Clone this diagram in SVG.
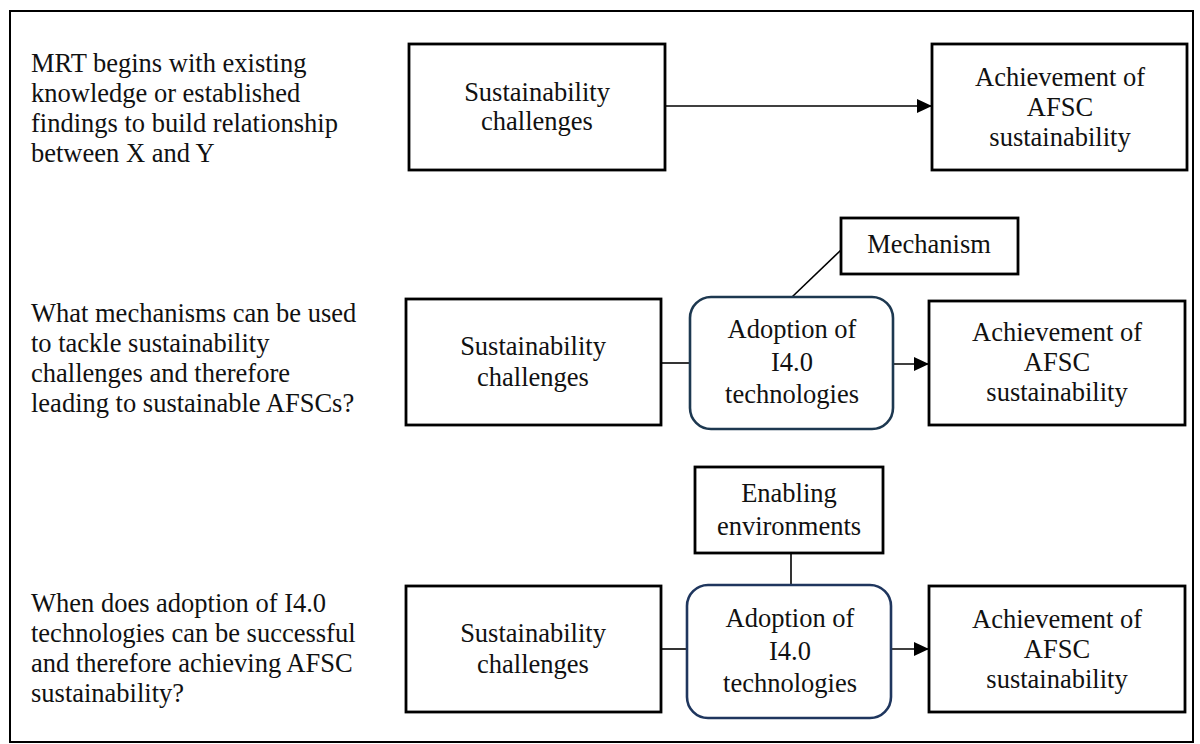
<svg xmlns="http://www.w3.org/2000/svg" width="1200" height="744" viewBox="0 0 1200 744">
<style>
text{font-family:"Liberation Serif","Times New Roman",serif;font-size:26.5px;fill:#111}
.c{text-anchor:middle}
.box{fill:#fff;stroke:#000;stroke-width:2.8}
.rbox{fill:#fff;stroke:#1d3850;stroke-width:2.6}
.ln{stroke:#000;stroke-width:1.6;fill:none}
</style>
<defs>
<marker id="ah" viewBox="0 0 15 14" refX="15" refY="7" markerWidth="15" markerHeight="14" markerUnits="userSpaceOnUse" orient="auto">
<path d="M0,0 L15,7 L0,14 Z" fill="#000"/>
</marker>
</defs>
<rect x="10" y="11" width="1183" height="731" fill="#fff" stroke="#000" stroke-width="2"/>

<g id="labels">
<text x="31" y="72">MRT begins with existing</text>
<text x="31" y="102">knowledge or established</text>
<text x="31" y="132">findings to build relationship</text>
<text x="31" y="162">between X and Y</text>
<text x="31" y="322">What mechanisms can be used</text>
<text x="31" y="352">to tackle sustainability</text>
<text x="31" y="382">challenges and therefore</text>
<text x="31" y="412">leading to sustainable AFSCs?</text>
<text x="31" y="612">When does adoption of I4.0</text>
<text x="31" y="642">technologies can be successful</text>
<text x="31" y="672">and therefore achieving AFSC</text>
<text x="31" y="702">sustainability?</text>
</g>

<g id="connectors">
<line class="ln" x1="665" y1="106" x2="932" y2="106" marker-end="url(#ah)"/>
<line class="ln" x1="661" y1="363" x2="690" y2="363"/>
<line class="ln" x1="893" y1="364" x2="929" y2="364" marker-end="url(#ah)"/>
<line class="ln" x1="841" y1="250" x2="792" y2="297"/>
<line class="ln" x1="661" y1="649" x2="687" y2="649"/>
<line class="ln" x1="891" y1="649" x2="929" y2="649" marker-end="url(#ah)"/>
<line class="ln" x1="791" y1="553" x2="791" y2="585"/>
</g>

<g id="sc1">
<rect class="box" x="409" y="44" width="256" height="126"/>
<text class="c" x="537" y="101">Sustainability</text>
<text class="c" x="537" y="130">challenges</text>
</g>
<g id="afsc1">
<rect class="box" x="932" y="44" width="255" height="126"/>
<text class="c" x="1060" y="86">Achievement of</text>
<text class="c" x="1060" y="116">AFSC</text>
<text class="c" x="1060" y="146">sustainability</text>
</g>

<g id="sc2">
<rect class="box" x="406" y="299" width="255" height="126"/>
<text class="c" x="533" y="355">Sustainability</text>
<text class="c" x="533" y="386">challenges</text>
</g>
<g id="i40a">
<rect class="rbox" x="690" y="297" width="203" height="132" rx="21"/>
<text class="c" x="792" y="338">Adoption of</text>
<text class="c" x="792" y="371">I4.0</text>
<text class="c" x="792" y="403">technologies</text>
</g>
<g id="mech">
<rect class="box" x="841" y="218" width="177" height="56"/>
<text class="c" x="929" y="253">Mechanism</text>
</g>
<g id="afsc2">
<rect class="box" x="929" y="301" width="256" height="124"/>
<text class="c" x="1057" y="341">Achievement of</text>
<text class="c" x="1057" y="371">AFSC</text>
<text class="c" x="1057" y="401">sustainability</text>
</g>

<g id="sc3">
<rect class="box" x="406" y="586" width="255" height="126"/>
<text class="c" x="533" y="642">Sustainability</text>
<text class="c" x="533" y="673">challenges</text>
</g>
<g id="i40b">
<rect class="rbox" x="687" y="585" width="204" height="133" rx="21" style="stroke:#1f365e"/>
<text class="c" x="790" y="627">Adoption of</text>
<text class="c" x="790" y="660">I4.0</text>
<text class="c" x="790" y="692">technologies</text>
</g>
<g id="enab">
<rect class="box" x="695" y="467" width="188" height="86"/>
<text class="c" x="789" y="502">Enabling</text>
<text class="c" x="789" y="535">environments</text>
</g>
<g id="afsc3">
<rect class="box" x="929" y="586" width="256" height="126"/>
<text class="c" x="1057" y="628">Achievement of</text>
<text class="c" x="1057" y="658">AFSC</text>
<text class="c" x="1057" y="688">sustainability</text>
</g>
</svg>
